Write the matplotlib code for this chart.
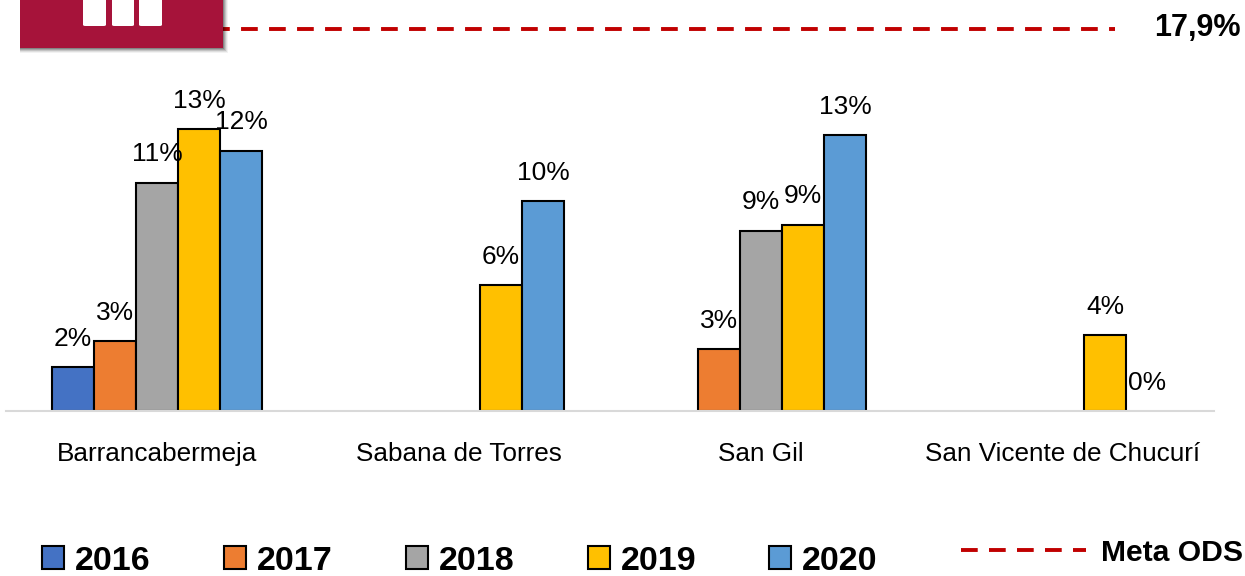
import matplotlib

matplotlib.use("Agg")
import matplotlib.pyplot as plt
from matplotlib.patches import FancyBboxPatch, Rectangle

plt.rcParams["font.family"] = ["Liberation Sans", "DejaVu Sans"]

W, H = 1245, 576

municipios = ["Barrancabermeja", "Sabana de Torres", "San Gil", "San Vicente de Chucurí"]
years = ["2016", "2017", "2018", "2019", "2020"]
colors = ["#4472C4", "#ED7D31", "#A5A5A5", "#FFC000", "#5B9BD5"]

# None = no data for that year
v2016 = [2.06, None, None, None]
v2017 = [3.28, None, 2.9, None]
v2018 = [10.7, None, 8.45, None]
v2019 = [13.2, 5.9, 8.72, 3.56]
v2020 = [12.2, 9.84, 12.93, 0.0]
series = [v2016, v2017, v2018, v2019, v2020]

l2016 = ["2%", None, None, None]
l2017 = ["3%", None, "3%", None]
l2018 = ["11%", None, "9%", None]
l2019 = ["13%", "6%", "9%", "4%"]
l2020 = ["12%", "10%", "13%", "0%"]
labels = [l2016, l2017, l2018, l2019, l2020]

meta_ods = 17.9
meta_x = [0.215, 3.172]

fig = plt.figure(figsize=(W / 100, H / 100), dpi=100)
ax = fig.add_axes([6 / W, (H - 411) / H, 1208 / W, 411 / H])

bar_w = 42 / 302
for i, (vals, labs) in enumerate(zip(series, labels)):
    xs = [j + (i - 2) * bar_w for j, v in enumerate(vals) if v is not None]
    ys = [v for v in vals if v is not None]
    tx = [t for t in labs if t is not None]
    bars = ax.bar(xs, ys, bar_w, color=colors[i], edgecolor="black", lw=1.5, label=years[i])
    for x, y, t, b in zip(xs, ys, tx, bars):
        if y == 0:
            b.set_visible(False)
        ax.annotate(t, (x, y), xytext=(0, 20.5), textcoords="offset points",
                    ha="center", va="center", fontsize=19)

line, = ax.plot(meta_x, [meta_ods, meta_ods], color="#C00000", lw=2.8,
                ls=(2.3, (4.3, 2.9)), dash_capstyle="butt", label="Meta ODS")

ax.set_xlim(-0.5, 3.5)
ax.set_ylim(0, 411 / 21.34)
ax.set_yticks([])
ax.set_xticks(range(4), municipios, fontsize=18.8)
ax.tick_params(axis="x", length=0, pad=22)
for s in ["top", "left", "right"]:
    ax.spines[s].set_visible(False)
ax.spines["bottom"].set_color("#D9D9D9")
ax.spines["bottom"].set_linewidth(1.5)

ax.text(1241 / W, (H - 28) / H, "17,9%", transform=fig.transFigure, ha="right", va="center",
        fontsize=22, fontweight="bold")

# legends
handles, names = ax.get_legend_handles_labels()
bar_h = [h for h, n in zip(handles, names) if n in years]
leg = ax.legend(bar_h, years, loc="center left", bbox_to_anchor=(42 / W, (H - 561) / H),
                bbox_transform=fig.transFigure, ncol=5, frameon=False,
                prop={"weight": "bold", "size": 24.5}, borderpad=0, borderaxespad=0,
                handlelength=0.65, handleheight=0.65, handletextpad=0.32, columnspacing=2.15)
ax.add_artist(leg)
meta_handle = plt.Line2D([], [], color="#C00000", lw=2.8, ls=(0, (4.3, 2.9)),
                         dash_capstyle="butt")
ax.legend([meta_handle], ["Meta ODS"], loc="center right", bbox_to_anchor=(1243 / W, (H - 553) / H),
          bbox_transform=fig.transFigure, frameon=False, prop={"weight": "bold", "size": 21.7},
          borderpad=0, borderaxespad=0, handlelength=4.15, handletextpad=0.5)


# red icon box clipped by the top edge, positions in image pixels
def box(x0, y0, x1, y1, **kw):
    return Rectangle((x0 / W, 1 - y1 / H), (x1 - x0) / W, (y1 - y0) / H,
                     transform=fig.transFigure, **kw)


for off, a in [(5, 0.05), (4, 0.08), (3, 0.12), (2, 0.15), (1, 0.2)]:
    fig.add_artist(box(20, 0, 223 + off, 48 + off, color="black", alpha=a, lw=0))
fig.add_artist(box(20, 0, 223, 48, color="#A6133A", lw=0))
for x0, x1 in [(83, 106), (112, 134), (139, 162)]:
    fig.add_artist(FancyBboxPatch((x0 / W, 1 - 26 / H), (x1 - x0) / W, 30 / H,
                                  boxstyle="round,pad=0,rounding_size=0.002",
                                  transform=fig.transFigure, color="white", lw=0))

fig.savefig("out.png", dpi=100)
